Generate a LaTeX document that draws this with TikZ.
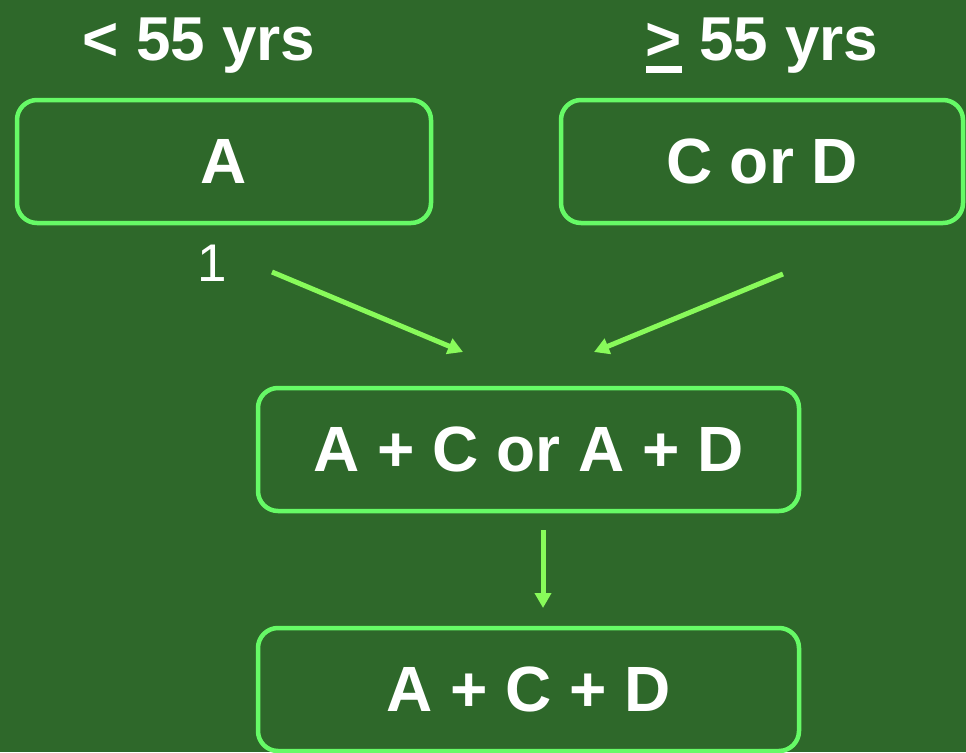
\documentclass[tikz,border=0pt]{standalone}
\usepackage{fontspec}
\setmainfont{Liberation Sans}
\usetikzlibrary{arrows.meta}
\definecolor{bg}{RGB}{46,104,42}
\definecolor{boxline}{RGB}{102,250,102}
\definecolor{arrowc}{RGB}{136,250,90}
\tikzset{
  stepbox/.style={draw=boxline, line width=4.5pt, rounded corners=20pt, text=white,
    font=\bfseries\fontsize{64}{72}\selectfont, inner sep=0pt},
  headlabel/.style={text=white, font=\bfseries\fontsize{62}{70}\selectfont, anchor=base, inner sep=0pt},
  flow/.style={draw=arrowc, line width=5pt, -{Triangle[length=15pt,width=16pt]}}
}
\begin{document}
\begin{tikzpicture}[x=1pt,y=-1pt]
\fill[bg] (0,0) rectangle (966,752);
\useasboundingbox (0,0) rectangle (966,752);
% header labels
\node[headlabel] (young) at (199,61) {< 55 yrs};
\node[headlabel] (old) at (762,61) {{\setbox0\hbox{>}\rlap{\rule[-12pt]{\wd0}{7pt}}\box0} 55 yrs};
% boxes
\node[stepbox, minimum width=414pt, minimum height=123pt] (a) at (224,161.5) {A};
\node[stepbox, minimum width=402pt, minimum height=123pt] (cd) at (762,161.5) {C or D};
\node[stepbox, minimum width=541pt, minimum height=123pt] (mid) at (528.5,449.5) {A + C or A + D};
\node[stepbox, minimum width=541pt, minimum height=123pt] (bot) at (528.5,689.5) {A + C + D};
% small label
\node[text=white, font=\fontsize{53}{60}\selectfont, anchor=base, inner sep=0pt] (one) at (212,281) {1};
% arrow end points
\coordinate (l1) at (272,272);
\coordinate (l2) at (463,352);
\coordinate (r1) at (783,274);
\coordinate (r2) at (594,352);
\coordinate (d1) at (543,530);
\coordinate (d2) at (543,608);
\draw[flow] (l1) -- (l2);
\draw[flow] (r1) -- (r2);
\draw[flow] (d1) -- (d2);
\end{tikzpicture}
\end{document}
